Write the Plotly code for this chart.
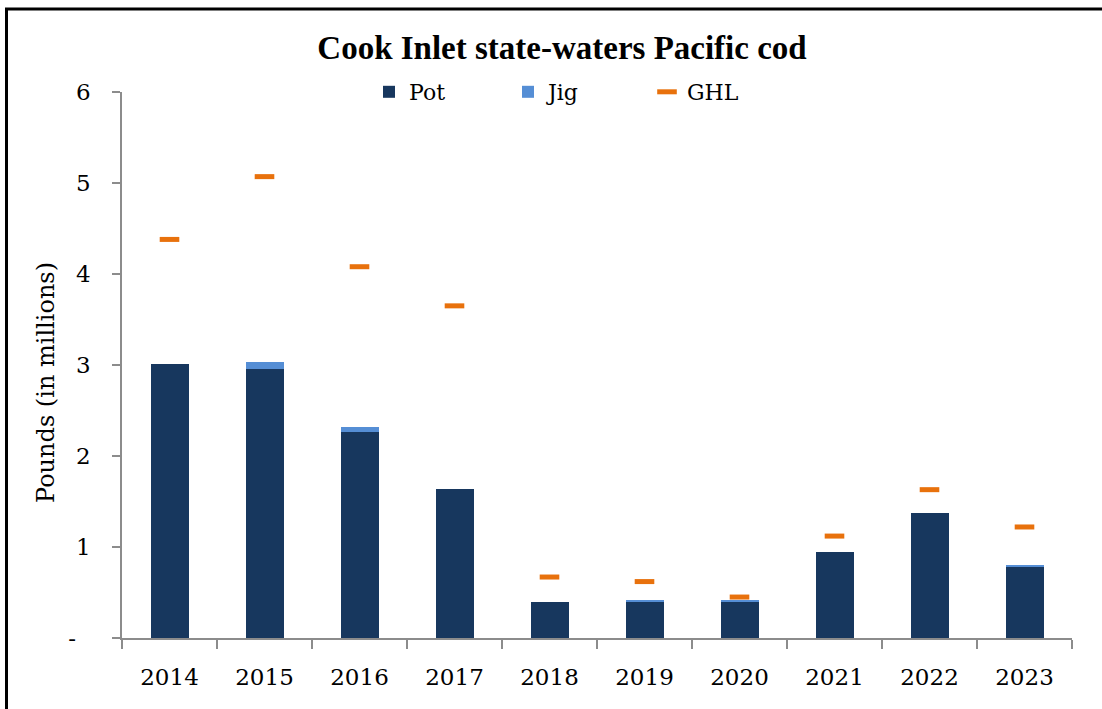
import plotly.graph_objects as go

years = ["2014", "2015", "2016", "2017", "2018", "2019", "2020", "2021", "2022", "2023"]
pot = [3.01, 2.96, 2.26, 1.64, 0.40, 0.40, 0.40, 0.945, 1.37, 0.79]
jig = [0.0, 0.075, 0.055, 0.0, 0.0, 0.007, 0.015, 0.0, 0.0, 0.007]
ghl = [4.38, 5.07, 4.08, 3.65, 0.67, 0.62, 0.45, 1.12, 1.63, 1.22]
y_ticks = [0, 1, 2, 3, 4, 5, 6]
y_ticktext = ["-\u00a0\u00a0", "1", "2", "3", "4", "5", "6"]

FONT = "DejaVu Serif"

fig = go.Figure()
fig.add_trace(go.Bar(x=years, y=pot, name="Pot", marker=dict(color="#17375E", line=dict(width=0))))
fig.add_trace(go.Bar(x=years, y=jig, name="Jig", marker=dict(color="#558ED5", line=dict(width=0))))
fig.add_trace(go.Scatter(x=years, y=ghl, name="GHL", mode="markers",
                         marker=dict(symbol="line-ew", size=14, color="#E8710C",
                                     line=dict(color="#E8710C", width=5))))

fig.update_layout(
    width=1102, height=709,
    barmode="stack", bargap=0.6,
    paper_bgcolor="white", plot_bgcolor="white",
    margin=dict(l=122, r=30, t=92, b=71, autoexpand=False),
    font=dict(family=FONT, size=22, color="black"),
    title=dict(text="<b>Cook Inlet state-waters Pacific cod</b>", x=562/1102, xanchor="center",
               xref="container", y=1 - 47/709, yanchor="middle", yref="container",
               font=dict(family="Liberation Serif", size=33, color="black")),
    legend=dict(orientation="h", x=(369 - 122)/950, xanchor="left", y=1.0, yanchor="middle",
                font=dict(family=FONT, size=22), entrywidth=94,
                bgcolor="rgba(0,0,0,0)", traceorder="normal"),
    showlegend=True,
)
fig.update_xaxes(range=[-0.5, 9.5], showline=True, linecolor="#8c8c8c", linewidth=1.5,
                 ticks="outside", tickson="boundaries", ticklen=9, tickcolor="#8c8c8c",
                 tickwidth=1.5, showgrid=False, tickfont=dict(family=FONT, size=23),
                 ticklabelstandoff=18, tickangle=0)
fig.update_yaxes(range=[0, 6], tickvals=y_ticks, ticktext=y_ticktext, showline=True,
                 linecolor="#8c8c8c", linewidth=1.5, ticks="outside", ticklen=8,
                 tickcolor="#8c8c8c", tickwidth=1.5, showgrid=False, zeroline=False,
                 tickfont=dict(family=FONT, size=23), ticklabelstandoff=17)

fig.add_annotation(text="Pounds (in millions)", textangle=-90, showarrow=False,
                   xref="paper", yref="paper", x=(46 - 122)/950, y=(638 - 383)/546,
                   xanchor="center", yanchor="middle",
                   font=dict(family=FONT, size=24, color="black"))

fig.add_shape(type="rect", xref="paper", yref="paper",
              x0=(6.5 - 122)/950, x1=(1110 - 122)/950, y0=-0.3, y1=(638 - 9)/546,
              line=dict(color="black", width=3), fillcolor="rgba(0,0,0,0)", layer="below")

fig.write_html("out.html", config={"displayModeBar": False},
               post_script="document.body.style.margin='0';document.body.style.overflow='hidden';")
